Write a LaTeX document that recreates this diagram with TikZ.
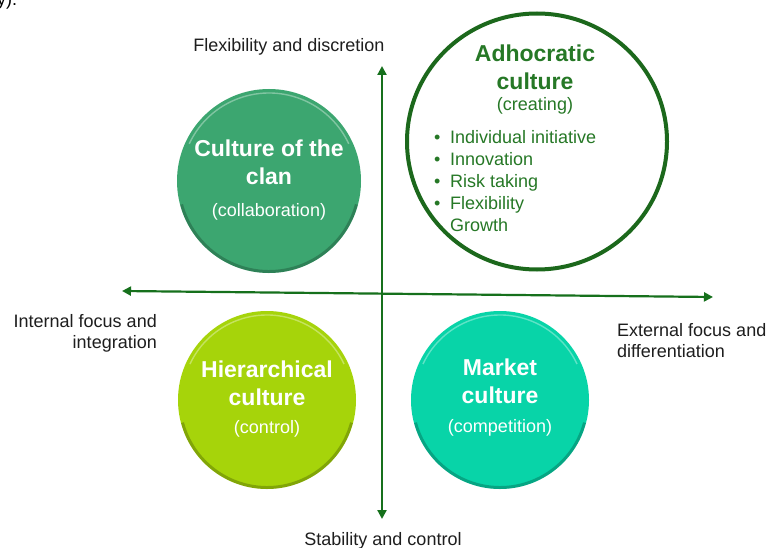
\documentclass[tikz,border=0pt]{standalone}
\usepackage{fontspec}
\setmainfont{Liberation Sans}
\usetikzlibrary{arrows.meta}
\definecolor{axisgreen}{RGB}{22,112,28}
\definecolor{adhocgreen}{RGB}{28,104,28}
\definecolor{adhoctext}{RGB}{38,120,38}
\definecolor{clanc}{RGB}{60,166,112}
\definecolor{hierc}{RGB}{166,212,10}
\definecolor{marketc}{RGB}{8,212,168}
\definecolor{labelc}{RGB}{30,30,30}
\tikzset{
  lbl/.style={font=\fontsize{18}{20}\selectfont, text=labelc, inner sep=0pt},
  ttl/.style={font=\bfseries\fontsize{23}{25}\selectfont, text=white, inner sep=0pt, anchor=base},
  sub/.style={font=\fontsize{18}{20}\selectfont, text=white, inner sep=0pt, anchor=base},
  adttl/.style={ttl, text=adhoctext},
  adsub/.style={sub, text=adhoctext},
  item/.style={font=\fontsize{18}{20}\selectfont, text=adhoctext, inner sep=0pt, anchor=base west},
  disc/.style={circle, inner sep=0pt, draw=none},
  axis/.style={draw=axisgreen, line width=2.2pt, {Triangle[length=9pt,width=9pt]}-{Triangle[length=9pt,width=9pt]}},
  rimdark/.style={line width=3pt, draw=black, draw opacity=0.22},
  rimlight/.style={line width=1.4pt, draw=white, draw opacity=0.35},
}
\newcommand{\bul}{\makebox[16pt][l]{•}}
\begin{document}
\begin{tikzpicture}[x=1pt,y=-1pt]
\useasboundingbox (0,0) rectangle (768,548);
\fill[white] (0,0) rectangle (768,548);

% stray cut-off text at the top-left corner
\node[lbl, anchor=base west, text=black] (stray) at (-3,6) {y).};

% axes
\coordinate (axT) at (382,66);
\coordinate (axB) at (382,519);
\coordinate (axL) at (122,291);
\coordinate (axR) at (713,297);
\draw[axis] (axB) -- (axT);
\draw[axis] (axL) -- (axR);

% clan
\node[disc, fill=clanc, minimum size=184pt] (clan) at (269,181) {};
\draw[rimdark] ([shift={(15:90.5)}]clan.center) arc (15:165:90.5);
\draw[rimlight] ([shift={(205:88)}]clan.center) arc (205:335:88);
\node[ttl] (clanA) at (269,157) {Culture of the};
\node[ttl] (clanB) at (269,185) {clan};
\node[sub] (clanC) at (269,217) {(collaboration)};

% hierarchical
\node[disc, fill=hierc, minimum size=178pt] (hier) at (267,400) {};
\draw[rimdark] ([shift={(15:87.5)}]hier.center) arc (15:165:87.5);
\draw[rimlight] ([shift={(205:85)}]hier.center) arc (205:335:85);
\node[ttl] (hierA) at (267,377) {Hierarchical};
\node[ttl] (hierB) at (267,405) {culture};
\node[sub] (hierC) at (267,433) {(control)};

% market
\node[disc, fill=marketc, minimum size=178pt] (market) at (500,400) {};
\draw[rimdark] ([shift={(15:87.5)}]market.center) arc (15:165:87.5);
\draw[rimlight] ([shift={(205:85)}]market.center) arc (205:335:85);
\node[ttl] (marketA) at (500,375) {Market};
\node[ttl] (marketB) at (500,403) {culture};
\node[sub] (marketC) at (500,432) {(competition)};

% adhocratic
\draw[adhocgreen, line width=4pt, fill=white] (537,141.5) ellipse (130 and 128);
\coordinate (adhoc) at (537,141.5);
\node[adttl] (adA) at (535,62) {Adhocratic};
\node[adttl] (adB) at (535,90) {culture};
\node[adsub] (adC) at (535,111) {(creating)};
\node[item] (ad1) at (434,144) {\bul Individual initiative};
\node[item] (ad2) at (434,166) {\bul Innovation};
\node[item] (ad3) at (434,188) {\bul Risk taking};
\node[item] (ad4) at (434,210) {\bul Flexibility};
\node[item] (ad5) at (434,232) {\hspace*{16pt}Growth};

% axis labels
\node[lbl, anchor=base] (flex) at (289,52) {Flexibility and discretion};
\node[lbl, anchor=base] (stab) at (383,545) {Stability and control};
\node[lbl, anchor=base east] (int1) at (157,327) {Internal focus and};
\node[lbl, anchor=base east] (int2) at (157,348) {integration};
\node[lbl, anchor=base west] (ext1) at (617,336) {External focus and};
\node[lbl, anchor=base west] (ext2) at (617,357) {differentiation};
\end{tikzpicture}
\end{document}
